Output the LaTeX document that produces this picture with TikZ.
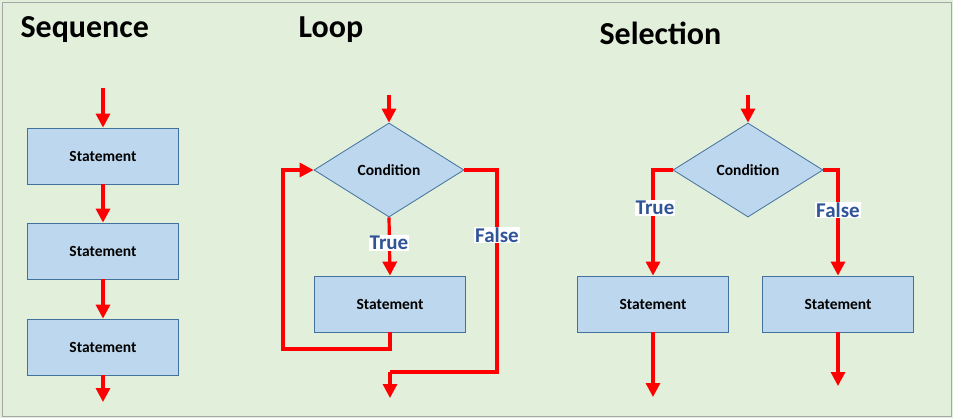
\documentclass[tikz,border=0pt]{standalone}
\usepackage{fontspec}
\setmainfont{Carlito}
\usetikzlibrary{shapes.geometric,arrows.meta}
\definecolor{bgc}{RGB}{226,239,218}
\definecolor{boxfill}{RGB}{189,215,238}
\definecolor{boxline}{RGB}{65,113,156}
\definecolor{lblue}{RGB}{47,85,151}
\begin{document}
\begin{tikzpicture}[x=1pt,y=-1pt,
  stbox/.style={draw=boxline,fill=boxfill,line width=0.8pt,minimum width=151pt,minimum height=56pt,inner sep=0pt,font=\fontsize{15.5}{18}\bfseries},
  cond/.style={diamond,draw=boxline,fill=boxfill,line width=0.8pt,minimum width=150pt,minimum height=94pt,inner sep=0pt,font=\fontsize{15.5}{18}\bfseries},
  flow/.style={draw=red,line width=3.2pt,-{Triangle[length=14pt,width=14pt]}},
  flowline/.style={draw=red,line width=3.2pt},
  lbl/.style={fill=white,text=lblue,font=\fontsize{21}{24}\bfseries,inner sep=1pt},
  title/.style={font=\fontsize{32}{36}\bfseries,anchor=west}]
\useasboundingbox (0,0) rectangle (953,418);
\fill[bgc] (0,0) rectangle (953,418);
\draw[gray!70,line width=1pt] (2,2) rectangle (951,416);
% titles
\node[title] (t1) at (17,30) {Sequence};
\node[title] (t2) at (295,30) {Loop};
\node[title] (t3) at (596,33) {Selection};
% sequence
\node[stbox] (s1) at (103,156) {Statement};
\node[stbox] (s2) at (103,251) {Statement};
\node[stbox] (s3) at (103,347) {Statement};
\coordinate (s0) at (103,88);
\coordinate (s4) at (103,402);
\draw[flow] (s0) -- (s1.north);
\draw[flow] (s1.south) -- (s2.north);
\draw[flow] (s2.south) -- (s3.north);
\draw[flow] (s3.south) -- (s4);
% loop
\node[cond] (lc) at (389,170) {Condition};
\node[stbox] (ls) at (390,304) {Statement};
\coordinate (l0) at (389,95);
\coordinate (lb) at (390,349);
\coordinate (ll) at (283,349);
\coordinate (lt) at (283,170);
\coordinate (fr) at (497,170);
\coordinate (fb) at (497,372);
\coordinate (fl) at (390,372);
\coordinate (fe) at (390,398);
\draw[flow] (l0) -- (lc.north);
\draw[flow] (lc.south) -- (ls.north);
\node[lbl] (ltrue) at (389,243) {True};
\draw[flow] (ls.south) -- (lb) -- (ll) -- (lt) -- (lc.west);
\draw[flowline] (lc.east) -- (fr) -- (fb) -- (fl);
\draw[flow] (fl) -- (fe);
\node[lbl] (lfalse) at (497,235) {False};
% selection
\node[cond] (sc) at (748,170) {Condition};
\node[stbox] (sa) at (653,304) {Statement};
\node[stbox] (sb) at (838,304) {Statement};
\coordinate (c0) at (748,95);
\coordinate (cl) at (653,170);
\coordinate (cr) at (838,170);
\coordinate (ae) at (653,397);
\coordinate (be) at (838,386);
\draw[flow] (c0) -- (sc.north);
\draw[flow] (sc.west) -- (cl) -- (sa.north);
\draw[flow] (sc.east) -- (cr) -- (sb.north);
\node[lbl] (strue) at (655,208) {True};
\node[lbl] (sfalse) at (838,210) {False};
\draw[flow] (sa.south) -- (ae);
\draw[flow] (sb.south) -- (be);
\end{tikzpicture}
\end{document}
